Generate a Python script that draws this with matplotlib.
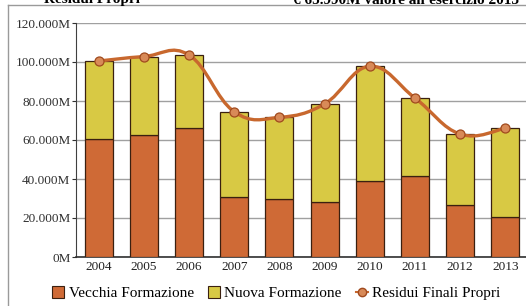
import numpy as np
import matplotlib.pyplot as plt
from matplotlib.path import Path
from matplotlib.patches import PathPatch
from matplotlib.lines import Line2D
from matplotlib.patches import Patch

plt.rc('font', family='Liberation Serif')

# data (values in "M" units as printed on the axis, e.g. 100.000M = 100000)
years = ['2004', '2005', '2006', '2007', '2008', '2009', '2010', '2011', '2012', '2013']
vecchia = [60500, 62500, 66000, 31000, 29500, 28300, 38800, 41500, 26500, 20300]
nuova = [40000, 40300, 37600, 43500, 42100, 50200, 59200, 40200, 36500, 45700]
residui = [100500, 102800, 103600, 74500, 71600, 78500, 97800, 81500, 63000, 66000]
yticks = [0, 20000, 40000, 60000, 80000, 100000, 120000]

c_old = '#cf6a36'
c_new = '#d8c944'
c_line = '#c8682e'

fig = plt.figure(figsize=(5.26, 3.06), dpi=100)
ax = fig.add_axes([76/526, 49/306, 452/526, 234/306])

x = np.arange(len(years))
ax.bar(x, vecchia, width=0.62, color=c_old, edgecolor='#3a2010', linewidth=0.9, zorder=3)
ax.bar(x, nuova, width=0.62, bottom=vecchia, color=c_new, edgecolor='#3a2010',
       linewidth=0.9, zorder=3)

# smoothed line through the points (cubic bezier, catmull-rom style)
pts = np.column_stack([x, residui]).astype(float)
verts = [pts[0]]
codes = [Path.MOVETO]
k = 5.0  # smoothing strength
for i in range(len(pts) - 1):
    p0 = pts[max(i - 1, 0)]
    p1 = pts[i]
    p2 = pts[i + 1]
    p3 = pts[min(i + 2, len(pts) - 1)]
    verts += [p1 + (p2 - p0) / k, p2 - (p3 - p1) / k, p2]
    codes += [Path.CURVE4] * 3
ax.add_patch(PathPatch(Path(verts, codes), facecolor='none', edgecolor=c_line,
                       linewidth=2.4, zorder=4))
ax.plot(x, residui, 'o', color='#d88a58', markeredgecolor='#a04a1e',
        markersize=6.5, markeredgewidth=0.9, zorder=5)

ax.set_xlim(-0.5, 9.5)
ax.set_ylim(0, 120000)
ax.set_yticks(yticks)
ax.set_yticklabels([f"{v:,}".replace(',', '.') + 'M' for v in yticks], fontsize=9.5)
ax.set_xticks(x)
ax.set_xticklabels(years, fontsize=9.5)
ax.yaxis.grid(True, color='#a0a0a0', linewidth=1.0, zorder=0)
ax.set_axisbelow(True)
for s in ['top', 'right']:
    ax.spines[s].set_visible(False)
ax.spines['left'].set_color('#404040')
ax.spines['bottom'].set_color('#303030')
ax.spines['bottom'].set_linewidth(1.2)
ax.tick_params(axis='y', length=3, pad=1, colors='#303030')
ax.tick_params(axis='x', length=0, pad=3, colors='#202020')

handles = [Patch(facecolor=c_old, edgecolor='#3a2010', linewidth=0.8),
           Patch(facecolor=c_new, edgecolor='#3a2010', linewidth=0.8),
           Line2D([], [], marker='o', color=c_line, markerfacecolor='#d88a58',
                  markeredgecolor='#a04a1e', linewidth=1.5, markersize=6)]
fig.legend(handles, ['Vecchia Formazione', 'Nuova Formazione', 'Residui Finali Propri'],
           loc='center left', bbox_to_anchor=(52/526, 13/306), ncol=3, frameon=False,
           fontsize=11, handlelength=0.8, handleheight=0.8, handletextpad=0.3,
           columnspacing=0.9, borderaxespad=0, borderpad=0)

# frame and clipped header texts
fig.add_artist(Line2D([8/526, 8/526], [0, 1 - 5/306], color='#9a9a9a', linewidth=1.0))
fig.add_artist(Line2D([8/526, 1], [1 - 5/306, 1 - 5/306], color='#9a9a9a', linewidth=1.0))
fig.text(140/526, 1.0, 'Residui Propri', ha='right', va='center', fontsize=11,
         fontweight='bold')
fig.text(293/526, 1.0, "€ 65.990M valore all'esercizio 2013", ha='left', va='center',
         fontsize=11, fontweight='bold')

fig.savefig('out.png', dpi=100)
